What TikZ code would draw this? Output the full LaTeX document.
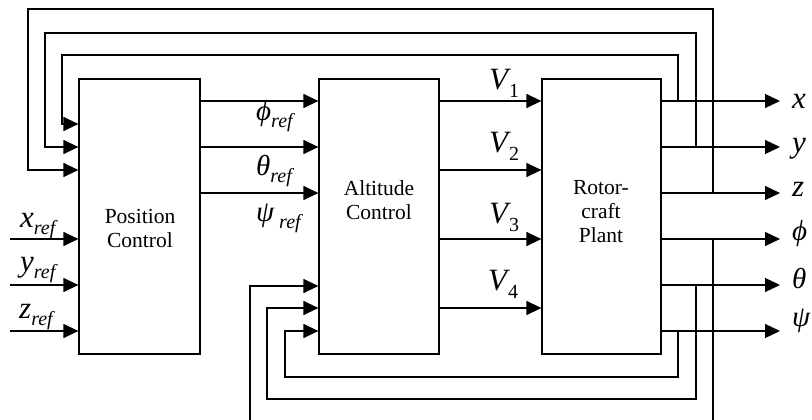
\documentclass[tikz,border=0pt]{standalone}
\usepackage{fontspec}
\setmainfont{Liberation Serif}
\usetikzlibrary{arrows.meta}
\newcommand{\mainsz}{\fontsize{31}{31}\selectfont}
\newcommand{\grsz}{\fontsize{29}{29}\selectfont}
\newcommand{\subsz}{\fontsize{20}{20}\selectfont}
\newcommand{\refl}[1]{{#1}\raisebox{-7pt}{\subsz\itshape ref}}
\newcommand{\vl}[1]{{\mainsz\itshape V}\hspace{1pt}\raisebox{-8pt}{\subsz #1}}
\begin{document}
\begin{tikzpicture}[x=1pt,y=-1pt,
  wire/.style={line width=1.2pt},
  arr/.style={line width=1.2pt,-{Triangle[length=15pt,width=14pt]}},
  blk/.style={draw,line width=1.2pt,minimum height=275pt,inner sep=0pt},
  btxt/.style={font=\fontsize{21.5}{24}\selectfont,align=center,inner sep=0pt},
  lab/.style={anchor=base west,inner sep=0pt}]
\useasboundingbox (0,0) rectangle (812,420);
\clip (0,0) rectangle (812,420);
% blocks
\node[blk,minimum width=121pt] (P) at (139.5,216.5) {};
\node[blk,minimum width=120pt] (A) at (379,216.5) {};
\node[blk,minimum width=119pt] (R) at (601.5,216.5) {};
\node[btxt] (tP) at (140,228) {Position\\Control};
\node[btxt] (tA) at (379,200) {Altitude\\Control};
\node[btxt] (tR) at (601,212) {Rotor-\\craft\\Plant};
% reference rows
\coordinate (r1) at (0,101);
\coordinate (r2) at (0,147);
\coordinate (r3) at (0,193);
\coordinate (r4) at (0,239);
\coordinate (r5) at (0,285);
\coordinate (r6) at (0,331);
\coordinate (v2) at (0,170);
\coordinate (v4) at (0,308);
\coordinate (f1) at (0,124);
\coordinate (f3) at (0,170);
% inputs to position control
\coordinate (xin) at (10,239);
\coordinate (yin) at (10,285);
\coordinate (zin) at (10,331);
\draw[arr] (xin) -- (P.west |- xin);
\draw[arr] (yin) -- (P.west |- yin);
\draw[arr] (zin) -- (P.west |- zin);
% position -> altitude
\draw[arr] (P.east |- r1) -- (A.west |- r1);
\draw[arr] (P.east |- r2) -- (A.west |- r2);
\draw[arr] (P.east |- r3) -- (A.west |- r3);
% altitude -> plant
\draw[arr] (A.east |- r1) -- (R.west |- r1);
\draw[arr] (A.east |- v2) -- (R.west |- v2);
\draw[arr] (A.east |- r4) -- (R.west |- r4);
\draw[arr] (A.east |- v4) -- (R.west |- v4);
% outputs
\coordinate (ox) at (780,101);
\coordinate (oy) at (780,147);
\coordinate (oz) at (780,193);
\coordinate (op) at (780,239);
\coordinate (ot) at (780,285);
\coordinate (os) at (780,331);
\draw[arr] (R.east |- ox) -- (ox);
\draw[arr] (R.east |- oy) -- (oy);
\draw[arr] (R.east |- oz) -- (oz);
\draw[arr] (R.east |- op) -- (op);
\draw[arr] (R.east |- ot) -- (ot);
\draw[arr] (R.east |- os) -- (os);
% junctions
\coordinate (jx) at (678,101);
\coordinate (jy) at (696,147);
\coordinate (jz) at (713,193);
\coordinate (jp) at (713,239);
\coordinate (jt) at (696,285);
\coordinate (js) at (678,331);
% feedback to position control
\draw[arr] (jx) -- (678,55) -- (62,55) -- (62,124) -- (P.west |- f1);
\draw[arr] (jy) -- (696,33) -- (45,33) -- (45,147) -- (P.west |- r2);
\draw[arr] (jz) -- (713,9) -- (28,9) -- (28,170) -- (P.west |- f3);
% feedback to altitude control
\draw[arr] (js) -- (678,377) -- (285,377) -- (285,331) -- (A.west |- r6);
\draw[arr] (jt) -- (696,399) -- (267,399) -- (267,308) -- (A.west |- v4);
\draw[arr] (jp) -- (713,430) -- (250,430) -- (250,286) -- (A.west |- 0,286);
% labels
\node[lab] (lxr) at (20,227) {\refl{\mainsz\itshape x}};
\node[lab] (lyr) at (20,271) {\refl{\mainsz\itshape y}};
\node[lab] (lzr) at (19,318) {\refl{\mainsz\itshape z}};
\node[lab] (lphr) at (256,121) {\refl{\grsz\itshape ϕ}};
\node[lab] (lthr) at (256,175) {\refl{\grsz\itshape θ}};
\node[lab] (lpsr) at (256,221) {\refl{\grsz\itshape ψ\hspace{5pt}}};
\node[lab] (lv1) at (489,90) {\vl{1}};
\node[lab] (lv2) at (489,152) {\vl{2}};
\node[lab] (lv3) at (489,223) {\vl{3}};
\node[lab] (lv4) at (488,290) {\vl{4}};
\node[lab] (lx) at (792,108) {\mainsz\itshape x};
\node[lab] (ly) at (792,152) {\mainsz\itshape y};
\node[lab] (lz) at (792,196) {\mainsz\itshape z};
\node[lab] (lp) at (792,240) {\grsz\itshape ϕ};
\node[lab] (lt) at (792,288) {\grsz\itshape θ};
\node[lab] (ls) at (792,326) {\grsz\itshape ψ};
\end{tikzpicture}
\end{document}
